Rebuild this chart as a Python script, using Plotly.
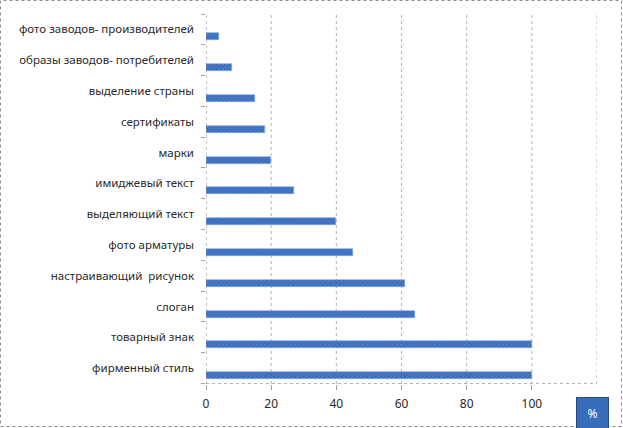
import plotly.graph_objects as go

# Categories, bottom to top as they appear on the chart
categories = [
    'фирменный стиль',
    'товарный знак',
    'слоган',
    'настраивающий  рисунок',
    'фото арматуры',
    'выделяющий текст',
    'имиджевый текст',
    'марки',
    'сертификаты',
    'выделение страны',
    'образы заводов- потребителей',
    'фото заводов- производителей',
]
values = [100, 100, 64, 61, 45, 40, 27, 20, 18, 15, 8, 4]
x_ticks = [0, 20, 40, 60, 80, 100]

W, H = 623, 428
L, R, T, B = 206, 26, 14, 44
pw, ph = W - L - R, H - T - B

fig = go.Figure()
fig.add_trace(go.Bar(
    y=categories, x=values, orientation='h',
    width=0.23, offset=-0.36,
    marker=dict(color='#3a6cbc', line=dict(color='#7ea6de', width=0.6),
                pattern=dict(shape='x', size=3, solidity=0.3, fgcolor='#88ace4')),
    showlegend=False,
    hoverinfo='skip',
))

grid = dict(color='#b4b4b4', width=1, dash='dot')
fig.update_layout(
    width=W, height=H,
    margin=dict(l=L, r=R, t=T, b=B),
    paper_bgcolor='white', plot_bgcolor='white',
    font=dict(family='Noto Sans, Liberation Sans, sans-serif', size=11, color='#2a2a2a'),
    bargap=0,
    shapes=[
        # dotted frame round the whole chart
        dict(type='rect', xref='paper', yref='paper', x0=-(L - 0.5) / pw, x1=1 + (R - 1.5) / pw,
             y0=-(B - 1.5) / ph, y1=1 + (T - 0.5) / ph,
             line=dict(color='#8c8c8c', width=1, dash='dot')),
    ],
    annotations=[
        dict(text='%', xref='paper', yref='paper', x=(592 - L) / pw, y=-(413 - (H - B)) / ph,
             showarrow=False, font=dict(color='white', size=12),
             bgcolor='#3a6cbc', bordercolor='#24477e', borderwidth=1,
             width=29, height=29, xanchor='center', yanchor='middle'),
    ],
)
fig.update_xaxes(
    range=[0, 120], tickvals=x_ticks, ticktext=[str(t) for t in x_ticks],
    showgrid=False, zeroline=False, showline=False,
    ticks='outside', ticklen=5, tickcolor='#a0a0a0',
    tickfont=dict(size=12), ticklabelstandoff=4,
)
# gridlines (including right edge at 120) and dotted axis lines
for gx in [20, 40, 60, 80, 100, 120]:
    fig.add_vline(x=gx, line=grid, layer='below')
fig.add_vline(x=0, line=dict(color='#8c8c8c', width=1, dash='dot'))
fig.add_hline(y=-0.5, line=grid, layer='below')
fig.update_yaxes(
    categoryorder='array', categoryarray=categories,
    showline=False,
    ticks='outside', ticklen=4, tickcolor='#a0a0a0', tickson='boundaries',
    showgrid=False, zeroline=False, ticklabelstandoff=11,
    tickfont=dict(size=11.5),
)

fig.write_html('out.html', config={'displayModeBar': False},
               post_script="document.body.style.margin='0';")
